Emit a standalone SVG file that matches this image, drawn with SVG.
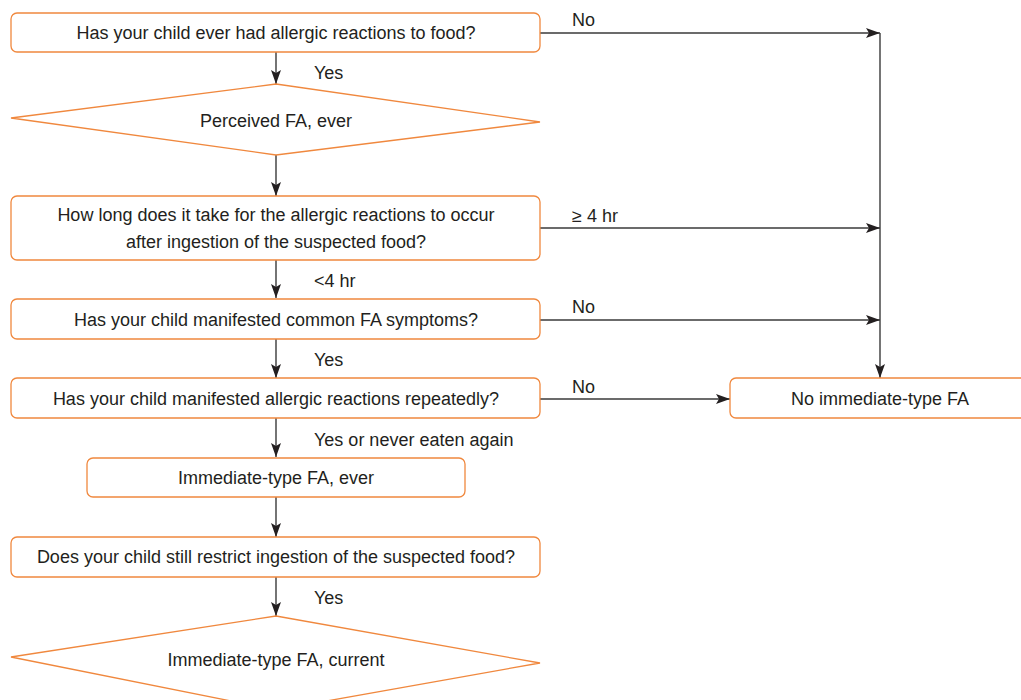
<svg xmlns="http://www.w3.org/2000/svg" width="1021" height="700" viewBox="0 0 1021 700">
<defs>
<marker id="ah" markerWidth="14" markerHeight="10" refX="14" refY="5" orient="auto" markerUnits="userSpaceOnUse">
<path d="M0,0 L14,5 L0,10 L3,5 Z" fill="#231f20"/>
</marker>
<style>
.box{fill:#fff;stroke:#f0883e;stroke-width:1.3}
.t{font-family:"Liberation Sans",Arial,sans-serif;font-size:18px;fill:#231f20;text-anchor:middle}
.l{font-family:"Liberation Sans",Arial,sans-serif;font-size:18px;fill:#231f20}
.c{fill:none;stroke:#3a3a3a;stroke-width:1.4}
</style>
</defs>
<rect width="1021" height="700" fill="#fff"/>
<g id="connectors">
<path class="c" d="M276,52 V84" marker-end="url(#ah)"/>
<path class="c" d="M276,155 V196" marker-end="url(#ah)"/>
<path class="c" d="M276,260 V298" marker-end="url(#ah)"/>
<path class="c" d="M276,339 V378" marker-end="url(#ah)"/>
<path class="c" d="M276,418 V457" marker-end="url(#ah)"/>
<path class="c" d="M276,497 V537" marker-end="url(#ah)"/>
<path class="c" d="M276,577 V616" marker-end="url(#ah)"/>
<path class="c" d="M540,33 H880" marker-end="url(#ah)"/>
<path class="c" d="M540,228 H880" marker-end="url(#ah)"/>
<path class="c" d="M540,320 H880" marker-end="url(#ah)"/>
<path class="c" d="M540,399 H730" marker-end="url(#ah)"/>
<path class="c" d="M880,33 V378" marker-end="url(#ah)"/>
<text class="l" x="314" y="79">Yes</text>
<text class="l" x="314" y="287">&lt;4 hr</text>
<text class="l" x="314" y="366">Yes</text>
<text class="l" x="314" y="446">Yes or never eaten again</text>
<text class="l" x="314" y="604">Yes</text>
<text class="l" x="572" y="26">No</text>
<text class="l" x="572" y="222">≥ 4 hr</text>
<text class="l" x="572" y="313">No</text>
<text class="l" x="572" y="393">No</text>
</g>
<g id="q1">
<rect class="box" x="11" y="13" width="529" height="39" rx="6"/>
<text class="t" x="276" y="39">Has your child ever had allergic reactions to food?</text>
</g>
<g id="perceived">
<polygon class="box" points="276,84 540,122 276,155 11,118"/>
<text class="t" x="276" y="127">Perceived FA, ever</text>
</g>
<g id="q2">
<rect class="box" x="11" y="196" width="529" height="64" rx="6"/>
<text class="t" x="276" y="221">How long does it take for the allergic reactions to occur</text>
<text class="t" x="276" y="248">after ingestion of the suspected food?</text>
</g>
<g id="q3">
<rect class="box" x="11" y="299" width="529" height="40" rx="6"/>
<text class="t" x="276" y="326">Has your child manifested common FA symptoms?</text>
</g>
<g id="q4">
<rect class="box" x="11" y="378" width="529" height="40" rx="6"/>
<text class="t" x="276" y="405">Has your child manifested allergic reactions repeatedly?</text>
</g>
<g id="noFA">
<rect class="box" x="730" y="378" width="300" height="40" rx="6"/>
<text class="t" x="880" y="405">No immediate-type FA</text>
</g>
<g id="ifaEver">
<rect class="box" x="87" y="458" width="378" height="39" rx="6"/>
<text class="t" x="276" y="484">Immediate-type FA, ever</text>
</g>
<g id="q5">
<rect class="box" x="11" y="537" width="529" height="40" rx="6"/>
<text class="t" x="276" y="563">Does your child still restrict ingestion of the suspected food?</text>
</g>
<g id="ifaCurrent">
<polygon class="box" points="276,616 540,663 276,710 11,657"/>
<text class="t" x="276" y="666">Immediate-type FA, current</text>
</g>
</svg>
